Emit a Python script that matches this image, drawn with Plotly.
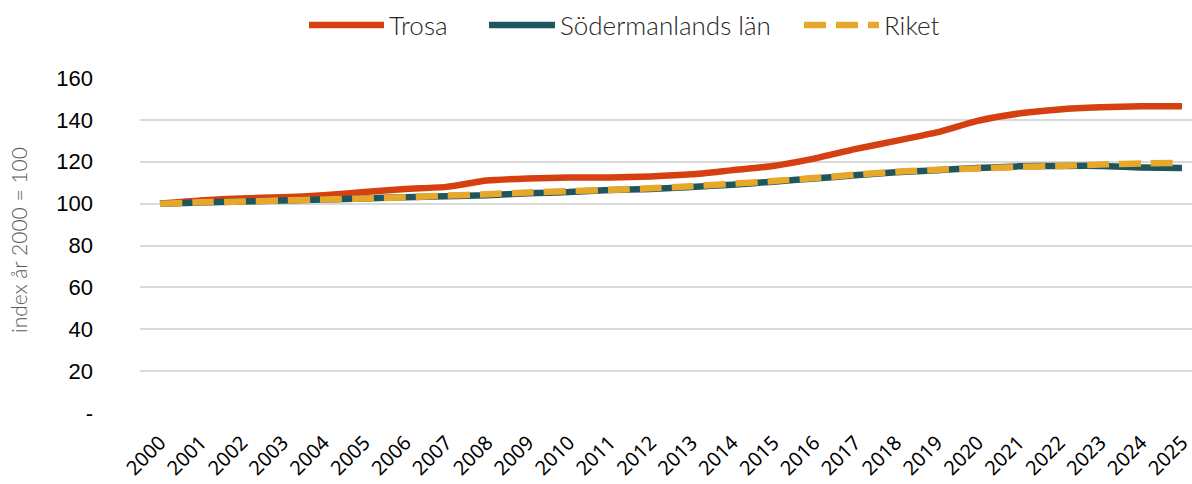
import plotly.graph_objects as go

years = list(range(2000, 2026))
trosa = [100, 101.5, 102.5, 103, 104, 105.5, 107, 108, 111, 112, 112.5, 112.5, 113, 114, 116,
         118, 121.5, 126, 130, 134, 139.5, 143, 145, 146, 146.5, 146.5]
sodermanland = [100, 100.5, 101, 101.5, 102, 102.5, 103, 103.5, 104, 105, 105.5, 106.5, 107, 108, 109,
                110.5, 112, 113.5, 115, 116, 117, 117.8, 118, 118, 117.3, 117]
riket = [100, 100.6, 101, 101.5, 102, 102.5, 103, 103.8, 104.5, 105.3, 106, 106.5, 107.3, 108.3, 109.5,
         110.8, 112.2, 113.8, 115.2, 116.2, 116.8, 117.5, 118, 118.7, 119.2, 119.5]
ytick_vals = [0, 20, 40, 60, 80, 100, 120, 140, 160]
ytick_text = ["-", "20", "40", "60", "80", "100", "120", "140", "160"]
y_title = "index år 2000 = 100"

W, H = 1192, 484
legend_font = dict(family="Lato, sans-serif", size=26, color="#262626", weight=300)

fig = go.Figure()
fig.add_trace(go.Scatter(x=years, y=trosa, name="Trosa", mode="lines", legend="legend",
                         line=dict(color="#D63F0F", width=6.5, shape="spline", smoothing=0.6)))
fig.add_trace(go.Scatter(x=years, y=sodermanland, name="Södermanlands län", mode="lines", legend="legend2",
                         line=dict(color="#1F565E", width=6.5, shape="spline", smoothing=0.6)))
fig.add_trace(go.Scatter(x=years, y=riket, name="Riket", mode="lines", legend="legend3",
                         line=dict(color="#E5A82A", width=6.5, shape="spline", smoothing=0.6,
                                   dash="22px,10px")))

def leg(xpx, iw):
    return dict(orientation="h", x=xpx / W, xanchor="left", xref="container",
                y=1 - 25 / H, yanchor="middle", yref="container",
                font=legend_font, itemwidth=iw, bgcolor="rgba(0,0,0,0)")

fig.update_layout(
    width=W, height=H,
    margin=dict(l=140, r=0, t=78, b=71),
    paper_bgcolor="white", plot_bgcolor="white",
    showlegend=True,
    legend=leg(304, 75),
    legend2=leg(484, 66),
    legend3=leg(799, 75),
)
fig.update_xaxes(
    range=[1999.511, 2025.245], tickmode="array", tickvals=years,
    ticktext=[str(y) for y in years], tickangle=-45,
    tickfont=dict(family="Noto Sans, sans-serif", size=20, color="#000000"),
    showgrid=False, zeroline=False, showline=False, ticks="",
    ticklabelstandoff=13, automargin=False, ticklabeloverflow="allow",
)
fig.update_yaxes(
    range=[0, 160], tickmode="array", tickvals=ytick_vals, ticktext=ytick_text,
    tickfont=dict(family="Liberation Sans, Arial, sans-serif", size=22, color="#000000"),
    showgrid=True, gridcolor="#D9D9D9", gridwidth=2, zeroline=False, showline=False,
    ticks="", ticklabelstandoff=46, automargin=False,
)
fig.add_annotation(text=y_title, xref="paper", yref="paper", x=-(140 - 18) / (W - 140),
                   y=(413 - 240) / (413 - 78), textangle=-90, showarrow=False,
                   xanchor="center", yanchor="middle",
                   font=dict(family="Lato, sans-serif", size=21, color="#595959", weight=300))

fig.write_html("out.html", config={"displayModeBar": False},
               post_script="document.body.style.margin='0px';document.body.style.padding='0px';")
